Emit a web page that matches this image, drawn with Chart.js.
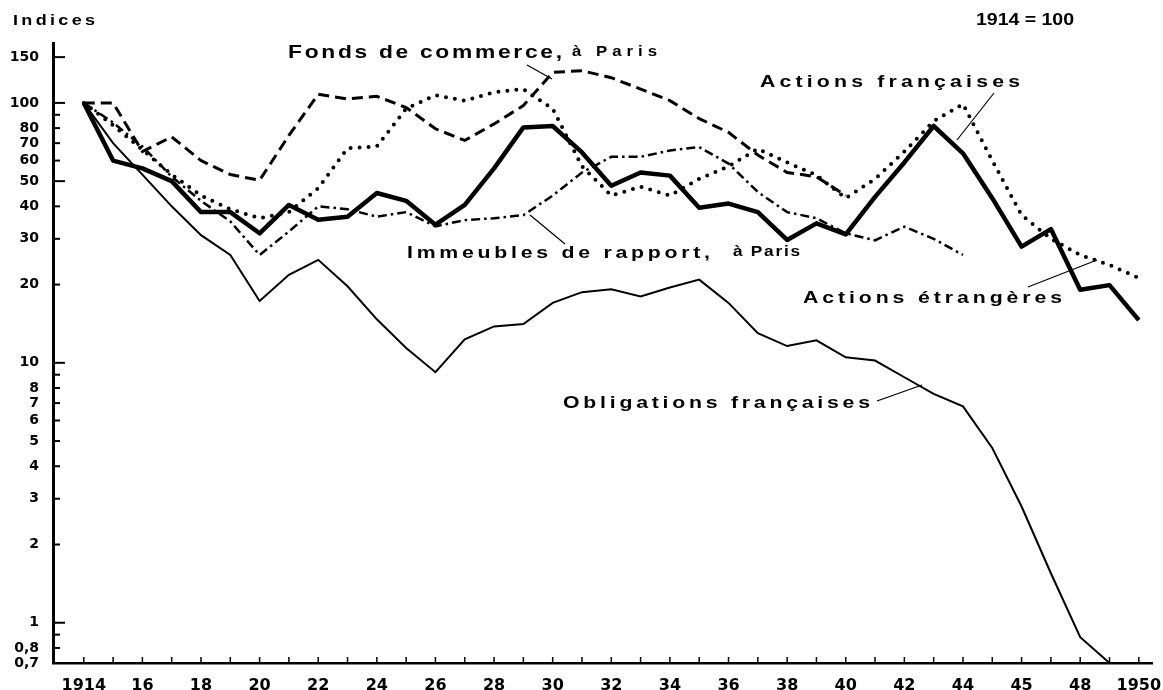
<!DOCTYPE html>
<html>
<head>
<meta charset="utf-8">
<script src="https://cdn.jsdelivr.net/npm/chart.js@4.4.1/dist/chart.umd.min.js"></script>
<style>
  body { margin: 0; background: #fff; }
  canvas { display: block; }
</style>
</head>
<body>
<canvas id="chart" width="1163" height="690"></canvas>
<script>
// 1914 = 100, log scale
const years = [1914, 1915, 1916, 1917, 1918, 1919, 1920, 1921, 1922, 1923, 1924, 1925, 1926,
               1927, 1928, 1929, 1930, 1931, 1932, 1933, 1934, 1935, 1936, 1937, 1938, 1939,
               1940, 1941, 1942, 1943, 1944, 1945, 1946, 1947, 1948, 1949, 1950];

const actionsFrancaises = [100, 60, 56, 50, 38, 38, 31.5, 40.5, 35.5, 36.5, 45, 42, 34,
                           40.5, 56, 80.5, 81.5, 64.5, 48, 54, 52.5, 39.5, 41, 38, 29.7, 34.4,
                           31.2, 43.5, 59, 81.5, 64, 43, 28, 32.7, 19.1, 19.9, 14.6];
const obligationsFrancaises = [100, 70, 53, 40, 31, 26, 17.3, 21.8, 24.9, 19.7, 14.7, 11.4, 9.2,
                               12.3, 13.8, 14.1, 17, 18.7, 19.2, 18, 19.5, 20.9, 17, 13, 11.6, 12.2,
                               10.5, 10.2, 8.8, 7.6, 6.8, 4.7, 2.8, 1.55, 0.88, 0.7, null];
const fondsCommerce = [100, 100, 65, 74, 60, 53, 50.4, 75, 108, 103.6, 106, 96, 79.5,
                       71.7, 83, 97.7, 131, 133, 125, 113, 102, 87, 77, 63, 54, 52,
                       44, null, null, null, null, null, null, null, null, null, null];
const immeublesRapport = [100, 84, 68, 52, 42, 35, 26, 32, 40, 39, 36.5, 38, 33.5,
                          35.4, 36, 37, 44, 54, 62, 62, 65.6, 67.6, 58.4, 45.4, 38, 36,
                          31.5, 29.6, 33.4, 30, 26, null, null, null, null, null, null];
const actionsEtrangeres = [100, 82, 66, 53, 44, 39, 36, 38, 47, 67, 68, 95, 107,
                           102, 110, 113, 95, 57, 44, 47.6, 44, 51, 57, 66.6, 59, 52.7,
                           43, 51, 65, 85, 99, 60, 37, 30, 26, 23.8, 21.2];

const yTickValues = [0.7, 0.8, 1, 2, 3, 4, 5, 6, 7, 8, 10, 20, 30, 40, 50, 60, 70, 80, 100, 150];
const yTickLabels = ['0,7', '0,8', '1', '2', '3', '4', '5', '6', '7', '8', '10', '20', '30', '40', '50', '60', '70', '80', '100', '150'];
const yMarkValues = [0.8, 0.9, 1, 2, 3, 4, 5, 6, 7, 8, 9, 10, 20, 30, 40, 50, 60, 70, 80, 90, 100, 150];
const yLongMarks = [1, 10, 50, 100, 150];

const xLabelYears = [1914, 1916, 1918, 1920, 1922, 1924, 1926, 1928, 1930, 1932, 1934, 1936, 1938, 1940, 1942, 1944, 1946, 1948, 1950];
const xLabelTexts = ['1914', '16', '18', '20', '22', '24', '26', '28', '30', '32', '34', '36', '38', '40', '42', '44', '45', '48', '1950'];

function toPoints(values) {
    return years.map((yr, i) => ({ x: yr, y: values[i] }));
}

// wide, tracked lettering: stretch glyphs a bit, then spread them to fill the width
function drawWide(ctx, text, x, y, width, font, stretch) {
    ctx.font = font;
    const chars = Array.from(text);
    const widths = chars.map(c => ctx.measureText(c).width);
    const total = widths.reduce((a, b) => a + b, 0);
    const gap = chars.length > 1 ? (width / stretch - total) / (chars.length - 1) : 0;
    ctx.save();
    ctx.translate(x, y);
    ctx.scale(stretch, 1);
    let cx = 0;
    chars.forEach((c, i) => {
        ctx.fillText(c, cx, 0);
        cx += widths[i] + gap;
    });
    ctx.restore();
}

const annotations = {
    id: 'annotations',
    afterDraw(chart) {
        const ctx = chart.ctx;
        const xs = chart.scales.x, ys = chart.scales.y;
        const area = chart.chartArea;
        ctx.save();
        ctx.strokeStyle = '#000';
        ctx.fillStyle = '#000';

        // inner tick marks
        ctx.lineWidth = 2;
        yMarkValues.forEach(v => {
            const py = ys.getPixelForValue(v);
            const len = yLongMarks.includes(v) ? 12 : 7;
            ctx.beginPath();
            ctx.moveTo(area.left, py);
            ctx.lineTo(area.left + len, py);
            ctx.stroke();
        });
        ctx.lineWidth = 1.5;
        years.forEach(yr => {
            const px = xs.getPixelForValue(yr);
            ctx.beginPath();
            ctx.moveTo(px, area.bottom);
            ctx.lineTo(px, area.bottom - 6);
            ctx.stroke();
        });

        // texts
        ctx.textBaseline = 'middle';
        ctx.textAlign = 'left';
        const fam = '"Liberation Sans", Arial, sans-serif';
        drawWide(ctx, 'Indices', 13, 21, 82, 'bold 15px ' + fam, 1.2);
        drawWide(ctx, '1914 = 100', 976, 20, 98, 'bold 17px ' + fam, 1.15);
        drawWide(ctx, 'Fonds de commerce,', 288, 53, 274, 'bold 19px ' + fam, 1.2);
        drawWide(ctx, 'à Paris', 572, 52, 85, 'bold 14px ' + fam, 1.2);
        drawWide(ctx, 'Actions françaises', 760, 82, 260, 'bold 17px ' + fam, 1.25);
        drawWide(ctx, 'Immeubles de rapport,', 407, 253, 303, 'bold 17px ' + fam, 1.25);
        drawWide(ctx, 'à Paris', 733, 252, 67, 'bold 15px ' + fam, 1.15);
        drawWide(ctx, 'Actions étrangères', 803, 298, 259, 'bold 17px ' + fam, 1.25);
        drawWide(ctx, 'Obligations françaises', 563, 403, 307, 'bold 17px ' + fam, 1.25);

        // leader lines
        ctx.lineWidth = 1.2;
        const leaders = [
            [527, 65, 552, 79],
            [994, 93, 957, 140],
            [530, 215, 565, 244],
            [1028, 287, 1097, 260],
            [877, 401, 922, 385]
        ];
        leaders.forEach(l => {
            ctx.beginPath();
            ctx.moveTo(l[0], l[1]);
            ctx.lineTo(l[2], l[3]);
            ctx.stroke();
        });
        ctx.restore();
    }
};

const ctx = document.getElementById('chart').getContext('2d');
new Chart(ctx, {
    type: 'line',
    data: {
        datasets: [
            {
                label: 'Actions françaises',
                data: toPoints(actionsFrancaises),
                borderColor: '#000',
                borderWidth: 4.5,
                borderJoinStyle: 'round'
            },
            {
                label: 'Obligations françaises',
                data: toPoints(obligationsFrancaises),
                borderColor: '#000',
                borderWidth: 2
            },
            {
                label: 'Fonds de commerce, à Paris',
                data: toPoints(fondsCommerce),
                borderColor: '#000',
                borderWidth: 3,
                borderDash: [11, 6]
            },
            {
                label: 'Immeubles de rapport, à Paris',
                data: toPoints(immeublesRapport),
                borderColor: '#000',
                borderWidth: 2.5,
                borderDash: [9, 4, 2.5, 4]
            },
            {
                label: 'Actions étrangères',
                data: toPoints(actionsEtrangeres),
                borderColor: '#000',
                borderWidth: 4,
                borderDash: [0, 9],
                borderCapStyle: 'round'
            }
        ]
    },
    options: {
        responsive: false,
        animation: false,
        layout: { padding: { top: 43, right: 11, left: 0, bottom: 0 } },
        elements: { point: { radius: 0 }, line: { tension: 0 } },
        plugins: {
            legend: { display: false },
            tooltip: { enabled: false }
        },
        scales: {
            x: {
                type: 'linear',
                min: 1912.95,
                max: 1950.45,
                grid: { display: false },
                border: { display: true, color: '#000', width: 2.5 },
                afterBuildTicks: (scale) => {
                    scale.ticks = xLabelYears.map(v => ({ value: v }));
                },
                afterFit: (scale) => {
                    scale.height = 27;
                    scale.paddingLeft = 0;
                    scale.paddingRight = 0;
                },
                ticks: {
                    autoSkip: false,
                    maxRotation: 0,
                    padding: 5,
                    color: '#000',
                    font: { family: '"DejaVu Sans", sans-serif', weight: 'bold', size: 16 },
                    callback: (value) => {
                        const i = xLabelYears.indexOf(value);
                        return i >= 0 ? xLabelTexts[i] : '';
                    }
                }
            },
            y: {
                type: 'logarithmic',
                min: 0.7,
                max: 170,
                grid: { display: false },
                border: { display: true, color: '#000', width: 3 },
                afterBuildTicks: (scale) => {
                    scale.ticks = yTickValues.map(v => ({ value: v }));
                },
                afterFit: (scale) => {
                    scale.width = 53;
                    scale.paddingTop = 0;
                    scale.paddingBottom = 0;
                },
                ticks: {
                    autoSkip: false,
                    padding: 6,
                    color: '#000',
                    font: { family: '"DejaVu Sans", sans-serif', weight: 'bold', size: 14 },
                    callback: (value) => {
                        const i = yTickValues.indexOf(value);
                        return i >= 0 ? yTickLabels[i] : '';
                    }
                }
            }
        }
    },
    plugins: [annotations]
});
</script>
</body>
</html>
